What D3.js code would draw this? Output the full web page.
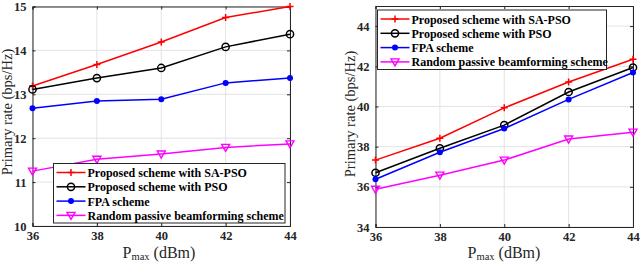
<!DOCTYPE html>
<html><head><meta charset="utf-8">
<script src="https://cdn.jsdelivr.net/npm/d3@7/dist/d3.min.js"></script>
<style>body{margin:0;background:#fff}svg{display:block}</style>
</head><body><svg id="c" width="640" height="262"></svg>
<script>
const xValues = [36, 38, 40, 42, 44];
const seriesNames = ["Proposed scheme with SA-PSO", "Proposed scheme with PSO", "FPA scheme", "Random passive beamforming scheme"];
const leftSAPSO = [13.19, 13.68, 14.19, 14.75, 15.0];
const leftPSO = [13.11, 13.37, 13.60, 14.08, 14.37];
const leftFPA = [12.68, 12.85, 12.89, 13.26, 13.37];
const leftRandom = [11.25, 11.52, 11.64, 11.79, 11.87];
const rightSAPSO = [37.33, 38.42, 39.93, 41.22, 42.35];
const rightPSO = [36.70, 37.92, 39.07, 40.72, 41.94];
const rightFPA = [36.38, 37.72, 38.90, 40.35, 41.69];
const rightRandom = [35.88, 36.58, 37.33, 38.38, 38.72];
const leftYTicks = [10, 11, 12, 13, 14, 15];
const rightYTicks = [34, 36, 38, 40, 42, 44];

const colors = ["#ff0000", "#000000", "#0000ff", "#ff00ff"];
const markers = ["plus", "circle", "dot", "tri"];
const svg = d3.select("#c");
const FONT = "'Liberation Serif','Times New Roman',serif";

function drawMarker(g, type, x, y, color) {
  if (type === "plus") {
    g.append("path").attr("d", `M${x-3.5},${y}H${x+3.5}M${x},${y-3.5}V${y+3.5}`).attr("stroke", color).attr("stroke-width", 1.5);
  } else if (type === "circle") {
    g.append("circle").attr("cx", x).attr("cy", y).attr("r", 3.6).attr("fill", "none").attr("stroke", color).attr("stroke-width", 1.5);
  } else if (type === "dot") {
    g.append("circle").attr("cx", x).attr("cy", y).attr("r", 3).attr("fill", color);
  } else {
    g.append("path").attr("d", `M${x-4},${y-3}L${x+4},${y-3}L${x},${y+4}Z`).attr("fill", "none").attr("stroke", color).attr("stroke-width", 1.4);
  }
}

function panel(cfg) {
  const {x0, x1, y0, y1, domain, yTicks, series, legend, ylabX, ylabY, xlabX} = cfg;
  const x = d3.scaleLinear().domain([36, 44]).range([x0, x1]);
  const y = d3.scaleLinear().domain(domain).range([y1, y0]);
  const g = svg.append("g");
  g.selectAll(".gx").data(xValues).enter().append("line")
    .attr("x1", d => x(d)).attr("x2", d => x(d)).attr("y1", y0).attr("y2", y1)
    .attr("stroke", "#e3e3e3").attr("stroke-width", 1);
  g.selectAll(".gy").data(yTicks).enter().append("line")
    .attr("x1", x0).attr("x2", x1).attr("y1", d => y(d)).attr("y2", d => y(d))
    .attr("stroke", "#e3e3e3").attr("stroke-width", 1);
  const ax = d3.axisBottom(x).tickValues(xValues).tickSize(-3).tickPadding(5).tickFormat(d3.format("d"));
  const gx = g.append("g").attr("transform", `translate(0,${y1})`).call(ax);
  const ay = d3.axisLeft(y).tickValues(yTicks).tickSize(-3).tickPadding(6).tickFormat(d3.format("d"));
  const gy = g.append("g").attr("transform", `translate(${x0},0)`).call(ay);
  const gy2 = g.append("g").attr("transform", `translate(${x1},0)`).call(d3.axisRight(y).tickValues(yTicks).tickSize(-3).tickFormat(""));
  const gx2 = g.append("g").attr("transform", `translate(0,${y0})`).call(d3.axisTop(x).tickValues(xValues).tickSize(-3).tickFormat(""));
  [gx, gy, gy2, gx2].forEach(a => {
    a.select(".domain").attr("stroke", "#262626").attr("stroke-width", 1);
    a.selectAll(".tick line").attr("stroke", "#262626");
    a.selectAll("text").attr("font-family", FONT).attr("font-weight", "bold").attr("font-size", 12.5).attr("fill", "#262626");
  });
  const line = d3.line().x((d, i) => x(xValues[i])).y(d => y(d));
  series.forEach((s, k) => {
    g.append("path").attr("d", line(s)).attr("fill", "none").attr("stroke", colors[k]).attr("stroke-width", 1.5);
    s.forEach((v, i) => drawMarker(g, markers[k], x(xValues[i]), y(v), colors[k]));
  });
  g.append("text").attr("transform", `translate(${ylabX},${ylabY}) rotate(-90)`)
    .attr("text-anchor", "middle").attr("font-family", FONT).attr("font-size", 14.5).attr("fill", "#262626")
    .text("Primary rate  (bps/Hz)");
  const xl = g.append("text").attr("x", xlabX).attr("y", 258).attr("text-anchor", "middle")
    .attr("font-family", FONT).attr("font-size", 16).attr("fill", "#262626");
  xl.append("tspan").text("P");
  xl.append("tspan").attr("font-size", 10.5).attr("dy", 2).text("max");
  xl.append("tspan").attr("dy", -2).text(" (dBm)");
  const lg = g.append("g");
  lg.append("rect").attr("x", legend.x).attr("y", legend.y).attr("width", legend.w).attr("height", legend.h)
    .attr("fill", "#fff").attr("stroke", "#262626").attr("stroke-width", 1);
  seriesNames.forEach((n, k) => {
    const yy = legend.y + 9 + k * 14.3;
    lg.append("line").attr("x1", legend.x + 3).attr("x2", legend.x + 32).attr("y1", yy).attr("y2", yy)
      .attr("stroke", colors[k]).attr("stroke-width", 1.5);
    drawMarker(lg, markers[k], legend.x + 17.5, yy, colors[k]);
    lg.append("text").attr("x", legend.x + 34).attr("y", yy + 4.5).attr("font-family", FONT)
      .attr("font-weight", "bold").attr("font-size", 12).attr("fill", "#000").text(n);
  });
}

panel({x0: 32.5, x1: 290, y0: 6.5, y1: 226, domain: [10, 15], yTicks: leftYTicks,
  series: [leftSAPSO, leftPSO, leftFPA, leftRandom],
  legend: {x: 53.5, y: 163.5, w: 231.5, h: 59.5}, ylabX: 12, ylabY: 112, xlabX: 159});
panel({x0: 375.5, x1: 633, y0: 6, y1: 227, domain: [34, 45], yTicks: rightYTicks,
  series: [rightSAPSO, rightPSO, rightFPA, rightRandom],
  legend: {x: 377.5, y: 10, w: 229, h: 59.5}, ylabX: 355, ylabY: 114, xlabX: 504});
</script></body></html>
